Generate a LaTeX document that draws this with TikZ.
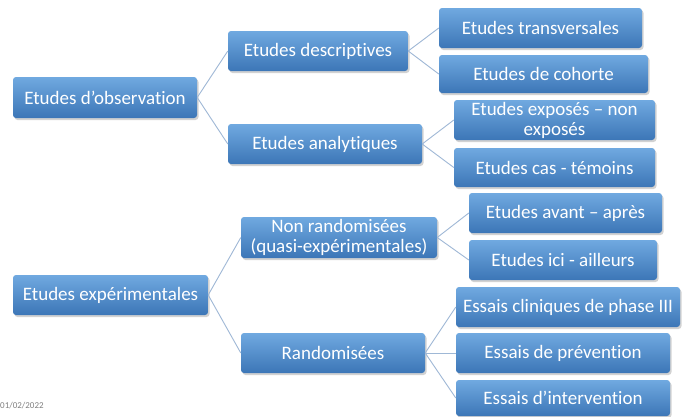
\documentclass[tikz,border=0pt]{standalone}
\usepackage{fontspec}
\setmainfont{Carlito}[Ligatures={NoCommon,TeX}]
\usetikzlibrary{shadows}
\definecolor{boxtop}{HTML}{70A9E0}
\definecolor{boxbot}{HTML}{3C76B7}
\definecolor{linkcol}{HTML}{9FB8D6}
\tikzstyle{boite}=[rectangle, rounded corners=3pt, top color=boxtop, bottom color=boxbot, text=white, align=center, inner sep=1pt, font=\fontsize{19}{20}\selectfont, drop shadow={shadow xshift=1.5pt, shadow yshift=-2pt, opacity=0.35}]
\tikzstyle{lien}=[draw=linkcol, line width=0.9pt]
\tikzstyle{datesty}=[font=\fontsize{9}{9}\selectfont, text=gray]

\begin{document}
\begin{tikzpicture}[x=1pt,y=-1pt]
	\fill[white] (0,0) rectangle (689,416);
	\useasboundingbox (0,0) rectangle (689,416);

	% racines
	\node[boite,minimum width=184pt,minimum height=41pt] (obs) at (105,97.5) {Etudes d’observation};
	\node[boite,minimum width=195pt,minimum height=40pt] (exp) at (110.5,295) {Etudes expérimentales};

	% second niveau
	\node[boite,minimum width=180pt,minimum height=40pt] (desc) at (318,51) {Etudes descriptives};
	\node[boite,minimum width=194pt,minimum height=40pt] (ana) at (325,144) {Etudes analytiques};
	\node[boite,minimum width=196pt,minimum height=41pt] (nonr) at (339,237.5) {Non randomisées\\(quasi-expérimentales)};
	\node[boite,minimum width=184pt,minimum height=40pt] (rand) at (333,353) {Randomisées};

	% troisieme niveau
	\node[boite,minimum width=203pt,minimum height=40pt] (trans) at (540.5,28) {Etudes transversales};
	\node[boite,minimum width=209pt,minimum height=38pt] (coh) at (543.5,74) {Etudes de cohorte};
	\node[boite,minimum width=201pt,minimum height=40pt] (expo) at (554.5,120) {Etudes exposés – non\\exposés};
	\node[boite,minimum width=201pt,minimum height=39pt] (cas) at (554.5,167.5) {Etudes cas - témoins};
	\node[boite,minimum width=193pt,minimum height=40pt] (avant) at (565.5,213) {Etudes avant – après};
	\node[boite,minimum width=188pt,minimum height=40pt] (ici) at (563,260) {Etudes ici - ailleurs};
	\node[boite,minimum width=224pt,minimum height=40pt] (phase) at (568,307) {Essais cliniques de phase III};
	\node[boite,minimum width=214pt,minimum height=40pt] (prev) at (563,353) {Essais de prévention};
	\node[boite,minimum width=214pt,minimum height=36pt] (inter) at (563,398) {Essais d’intervention};

	\node[datesty,anchor=west,inner sep=0pt] (date) at (0,406) {01/02/2022};

	% liens
	\draw[lien] (obs.east) -- (desc.west);
	\draw[lien] (obs.east) -- (ana.west);
	\draw[lien] (exp.east) -- (nonr.west);
	\draw[lien] (exp.east) -- (rand.west);
	\draw[lien] (desc.east) -- (trans.west);
	\draw[lien] (desc.east) -- (coh.west);
	\draw[lien] (ana.east) -- (expo.west);
	\draw[lien] (ana.east) -- (cas.west);
	\draw[lien] (nonr.east) -- (avant.west);
	\draw[lien] (nonr.east) -- (ici.west);
	\draw[lien] (rand.east) -- (phase.west);
	\draw[lien] (rand.east) -- (prev.west);
	\draw[lien] (rand.east) -- (inter.west);
\end{tikzpicture}
\end{document}
